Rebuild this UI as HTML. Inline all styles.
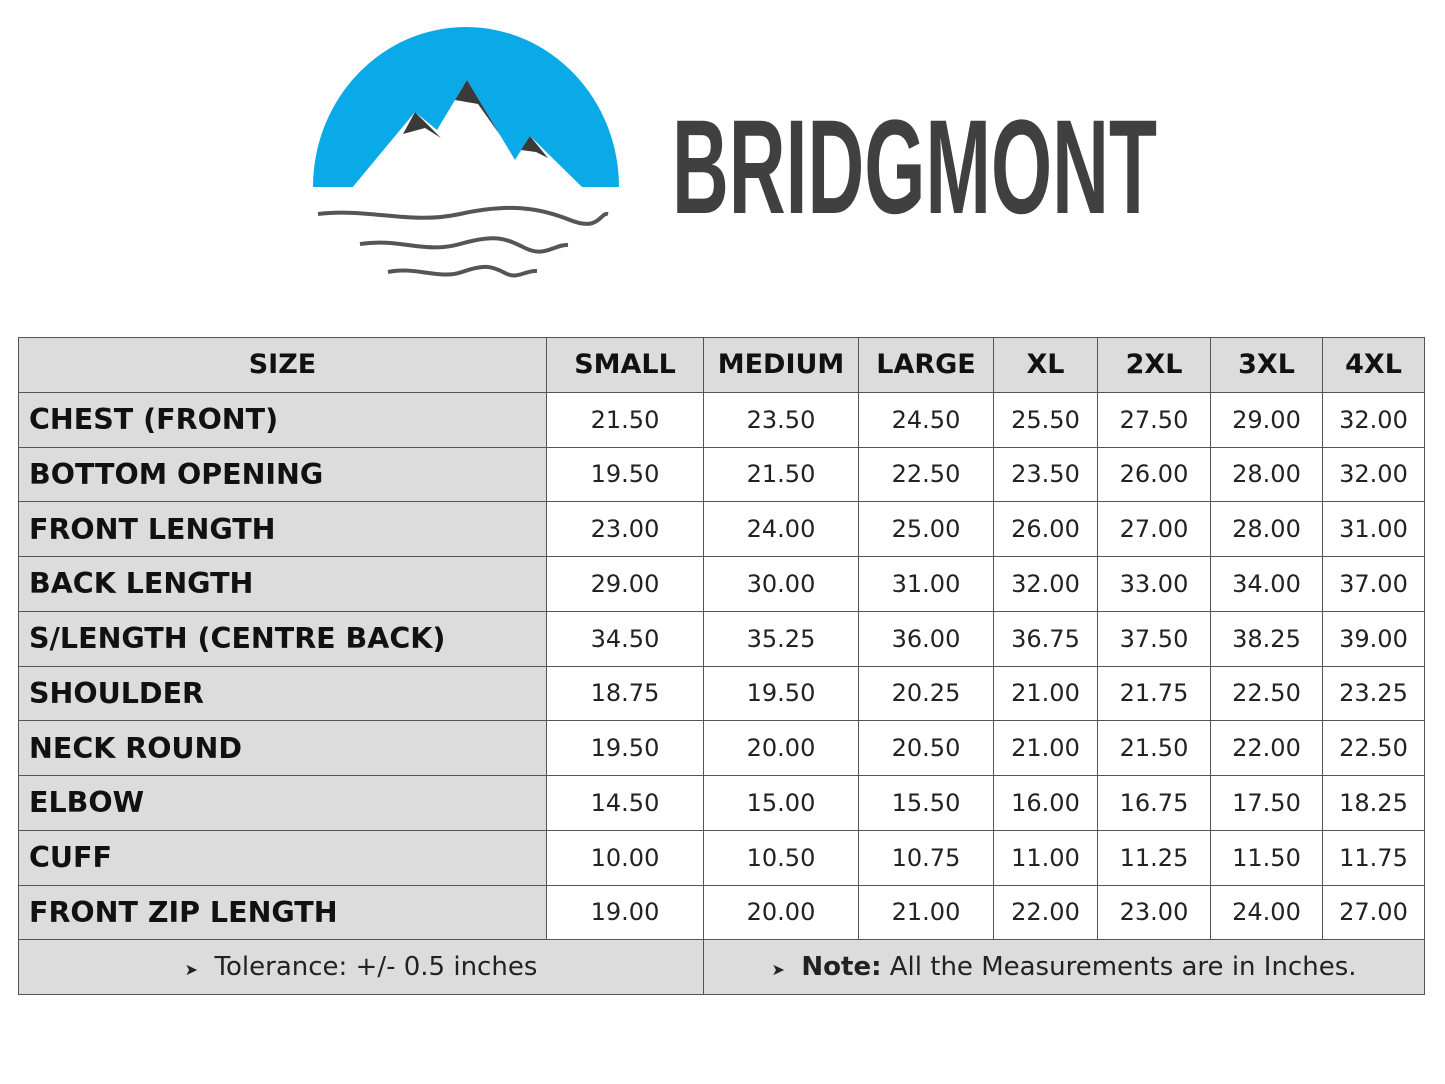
<!DOCTYPE html>
<html><head><meta charset="utf-8"><style>
body{margin:0;width:1445px;height:1084px;background:#fff;position:relative;overflow:hidden;font-family:"DejaVu Sans","Liberation Sans",sans-serif}
table{position:absolute;left:18px;top:337px;border-collapse:collapse;table-layout:fixed;width:1406px}
tr{height:54.75px}
td{border:1.5px solid #555;padding:0;text-align:center;font-size:24px;color:#222;background:#fff;white-space:nowrap;overflow:hidden}
tr.h td{background:#dcdcdc;font-weight:bold;font-size:27px;color:#111}
td.l{background:#dcdcdc;font-weight:bold;font-size:28.5px;text-align:left;padding-left:10px;color:#111}
tr.f td{background:#dcdcdc;font-size:26px;color:#222}
</style></head><body>
<svg width="1445" height="300" style="position:absolute;left:0;top:0">
<path d="M313,187 A153,160 0 0 1 619,187 Z" fill="#0aa9e8"/>
<polygon points="352,188 415,112 437,130 467,80 515,160 530,136 583,188" fill="#fff"/>
<polygon points="403,134 415,112 441,138 425,128" fill="#3a3a3a"/>
<polygon points="455,100 467,80 500,135 478,104" fill="#3a3a3a"/>
<polygon points="521,150 530,136 548,158 536,152" fill="#3a3a3a"/>
<path d="M318,214 C370,208 410,225 460,214 S540,208 570,220 S600,212 608,214" stroke="#555" stroke-width="4" fill="none"/>
<path d="M360,244 C400,238 425,254 460,244 S505,238 525,248 S555,244 568,245" stroke="#555" stroke-width="4" fill="none"/>
<path d="M388,272 C415,266 440,280 462,272 S492,266 505,273 S525,270 537,271" stroke="#555" stroke-width="4" fill="none"/>
<text x="672" y="213" font-family="Liberation Sans Narrow, Liberation Sans, sans-serif" font-weight="bold" font-size="134" fill="#404040" textLength="485" lengthAdjust="spacingAndGlyphs">BRIDGMONT</text>
</svg>
<table>
<colgroup><col style="width:528px"><col style="width:157px"><col style="width:155px"><col style="width:135px"><col style="width:104px"><col style="width:113px"><col style="width:112px"><col style="width:102px"></colgroup>
<tr class="h"><td>SIZE</td><td>SMALL</td><td>MEDIUM</td><td>LARGE</td><td>XL</td><td>2XL</td><td>3XL</td><td>4XL</td></tr>
<tr><td class="l">CHEST (FRONT)</td><td>21.50</td><td>23.50</td><td>24.50</td><td>25.50</td><td>27.50</td><td>29.00</td><td>32.00</td></tr>
<tr><td class="l">BOTTOM OPENING</td><td>19.50</td><td>21.50</td><td>22.50</td><td>23.50</td><td>26.00</td><td>28.00</td><td>32.00</td></tr>
<tr><td class="l">FRONT LENGTH</td><td>23.00</td><td>24.00</td><td>25.00</td><td>26.00</td><td>27.00</td><td>28.00</td><td>31.00</td></tr>
<tr><td class="l">BACK LENGTH</td><td>29.00</td><td>30.00</td><td>31.00</td><td>32.00</td><td>33.00</td><td>34.00</td><td>37.00</td></tr>
<tr><td class="l">S/LENGTH (CENTRE BACK)</td><td>34.50</td><td>35.25</td><td>36.00</td><td>36.75</td><td>37.50</td><td>38.25</td><td>39.00</td></tr>
<tr><td class="l">SHOULDER</td><td>18.75</td><td>19.50</td><td>20.25</td><td>21.00</td><td>21.75</td><td>22.50</td><td>23.25</td></tr>
<tr><td class="l">NECK ROUND</td><td>19.50</td><td>20.00</td><td>20.50</td><td>21.00</td><td>21.50</td><td>22.00</td><td>22.50</td></tr>
<tr><td class="l">ELBOW</td><td>14.50</td><td>15.00</td><td>15.50</td><td>16.00</td><td>16.75</td><td>17.50</td><td>18.25</td></tr>
<tr><td class="l">CUFF</td><td>10.00</td><td>10.50</td><td>10.75</td><td>11.00</td><td>11.25</td><td>11.50</td><td>11.75</td></tr>
<tr><td class="l">FRONT ZIP LENGTH</td><td>19.00</td><td>20.00</td><td>21.00</td><td>22.00</td><td>23.00</td><td>24.00</td><td>27.00</td></tr>
<tr class="f"><td colspan="2"><span style="font-size:16px">&#10148;</span>&nbsp; Tolerance: +/- 0.5 inches</td><td colspan="6"><span style="font-size:16px">&#10148;</span>&nbsp; <b>Note:</b> All the Measurements are in Inches.</td></tr>
</table>
</body></html>
